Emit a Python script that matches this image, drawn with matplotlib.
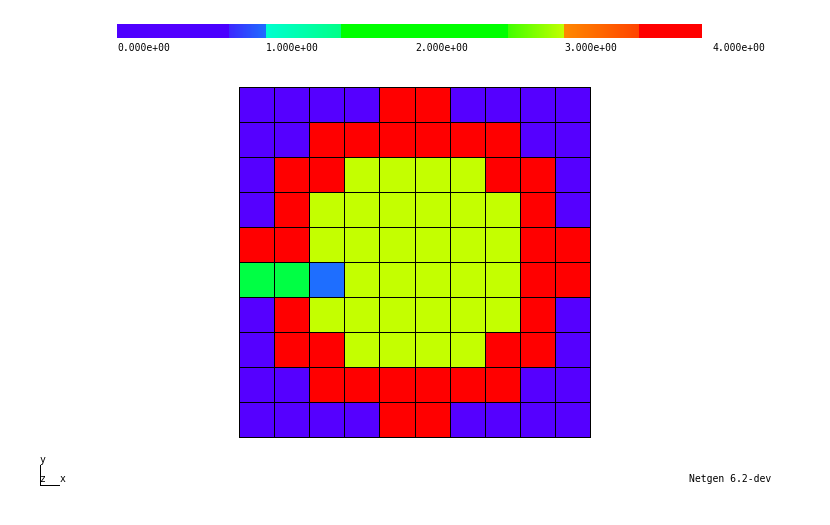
import numpy as np
import matplotlib
matplotlib.use("Agg")
import matplotlib.pyplot as plt
from matplotlib.colors import LinearSegmentedColormap, ListedColormap, BoundaryNorm
from matplotlib.lines import Line2D

# ---- data ----
# cell values (0..4), row 0 = top row
grid = [
    [0, 0, 0, 0, 4, 4, 0, 0, 0, 0],
    [0, 0, 4, 4, 4, 4, 4, 4, 0, 0],
    [0, 4, 4, 3, 3, 3, 3, 4, 4, 0],
    [0, 4, 3, 3, 3, 3, 3, 3, 4, 0],
    [4, 4, 3, 3, 3, 3, 3, 3, 4, 4],
    [2, 2, 1, 3, 3, 3, 3, 3, 4, 4],
    [0, 4, 3, 3, 3, 3, 3, 3, 4, 0],
    [0, 4, 4, 3, 3, 3, 3, 4, 4, 0],
    [0, 0, 4, 4, 4, 4, 4, 4, 0, 0],
    [0, 0, 0, 0, 4, 4, 0, 0, 0, 0],
]
levels = [0, 1, 2, 3, 4]
level_colors = ['#5500ff', '#1e6eff', '#00ff44', '#c4ff00', '#ff0000']
tick_values = [0, 1, 2, 3, 4]
tick_labels = ['0.000e+00', '1.000e+00', '2.000e+00', '3.000e+00', '4.000e+00']
bar_max = 3.92

# colour bar stops (value, colour)
bar_stops = [
    (0.00, '#4e00ff'), (0.49, '#5500ff'),
    (0.49, '#4c00ff'), (0.75, '#4a00ff'),
    (0.75, '#3c28ff'), (1.00, '#1e6eff'),
    (1.00, '#00ffd0'), (1.50, '#00ff88'),
    (1.50, '#00ff00'), (2.62, '#00ff00'),
    (2.62, '#40ff00'), (3.00, '#c4ff00'),
    (3.00, '#ff8800'), (3.50, '#ff4400'),
    (3.50, '#ff0000'), (3.92, '#ff0000'),
]

W, H = 830, 525
fig = plt.figure(figsize=(W / 100, H / 100), dpi=100)
fig.patch.set_facecolor('white')
mono = 'DejaVu Sans Mono'
LW = 0.72

def px_axes(x0, y0, x1, y1):
    return fig.add_axes([x0 / W, 1 - y1 / H, (x1 - x0) / W, (y1 - y0) / H])

# ---- mesh ----
ax = px_axes(239, 87, 590, 437)
arr = np.array(grid)[::-1]
cmap = ListedColormap(level_colors)
norm = BoundaryNorm(np.array(levels + [5]) - 0.5, cmap.N)
ax.pcolormesh(np.arange(arr.shape[1] + 1), np.arange(arr.shape[0] + 1), arr,
              cmap=cmap, norm=norm, edgecolors='black', linewidth=LW,
              antialiased=False)
ax.set_xlim(0, arr.shape[1])
ax.set_ylim(0, arr.shape[0])
ax.set_xticks([]); ax.set_yticks([])
for s in ax.spines.values():
    s.set_linewidth(LW)

# ---- colour bar ----
vals = [v / bar_max for v, c in bar_stops]
vals[-1] = 1.0
bcmap = LinearSegmentedColormap.from_list('ng', list(zip(vals, [c for v, c in bar_stops])), N=1024)
cax = px_axes(117, 24, 701, 38)
cax.imshow(np.linspace(0, bar_max, 1024)[None, :], aspect='auto', cmap=bcmap,
           vmin=0, vmax=bar_max, extent=(0, bar_max, 0, 1), interpolation='nearest')
cax.set_xlim(0, bar_max); cax.set_ylim(0, 1)
cax.axis('off')
for v, lab in zip(tick_values, tick_labels):
    cax.text(v, -0.75, lab, ha='left', va='center', fontsize=7, family=mono,
             clip_on=False)

# ---- axis glyph ----
fig.add_artist(Line2D([39.5 / W, 39.5 / W], [1 - 465 / H, 1 - 484.5 / H], color='black', lw=LW))
fig.add_artist(Line2D([39.5 / W, 59 / W], [1 - 484.5 / H, 1 - 484.5 / H], color='black', lw=LW))
fig.text(39 / W, 1 - 460 / H, 'y', fontsize=7, family=mono, ha='left', va='center')
fig.text(40 / W, 1 - 479 / H, 'z', fontsize=7, family=mono, ha='left', va='center')
fig.text(60 / W, 1 - 479 / H, 'x', fontsize=7, family=mono, ha='left', va='center')

fig.text(689 / W, 1 - 479 / H, 'Netgen 6.2-dev', fontsize=7, family=mono,
         ha='left', va='center')

fig.savefig('out.png', dpi=100)
